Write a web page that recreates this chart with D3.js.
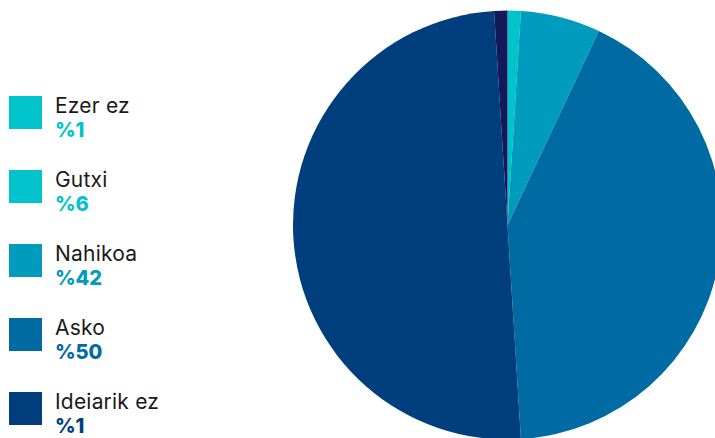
<!DOCTYPE html>
<html><head><meta charset="utf-8">
<script src="https://cdn.jsdelivr.net/npm/d3@7"></script>
<style>html,body{margin:0;padding:0;background:#fff;overflow:hidden}svg{display:block}</style>
</head><body>
<svg id="c" width="715" height="438"></svg>
<script>
const categories = ["Ezer ez", "Gutxi", "Nahikoa", "Asko", "Ideiarik ez"];
const values = [1, 6, 42, 50, 1];
const percentLabels = ["%1", "%6", "%42", "%50", "%1"];
const sliceColors = ["#00C3CC", "#009BBD", "#006AA3", "#003E7E", "#13195A"];
const legendColors = ["#00C3CC", "#00C3CC", "#009BBD", "#006AA3", "#003E7E"];

const svg = d3.select("#c");
const cx = 507.5, cy = 225, r = 214.5;
const pie = d3.pie().sort(null).value(d => d)(values);
const arc = d3.arc().innerRadius(0).outerRadius(r);
svg.append("g").attr("transform", `translate(${cx},${cy})`)
  .selectAll("path").data(pie).join("path")
  .attr("d", arc).attr("fill", (d, i) => sliceColors[i]);

const y = d3.scaleBand().domain(categories).range([96, 96 + 74 * 5]).paddingInner(0);
const lg = svg.append("g").selectAll("g").data(categories).join("g")
  .attr("transform", d => `translate(9,${y(d)})`);
lg.append("rect").attr("width", 33).attr("height", 33).attr("fill", (d, i) => legendColors[i]);
lg.append("text").attr("x", 46).attr("y", 17)
  .attr("font-family", "Inter, 'Noto Sans', sans-serif").attr("font-size", 21)
  .attr("letter-spacing", 0.2)
  .attr("font-weight", 400).attr("fill", "#1a1a1a").text(d => d);
lg.append("text").attr("x", 46).attr("y", 41)
  .attr("font-family", "Inter, 'Noto Sans', sans-serif").attr("font-size", 20)
  .attr("font-weight", 800).attr("fill", (d, i) => legendColors[i]).text((d, i) => percentLabels[i]);
</script>
</body></html>
